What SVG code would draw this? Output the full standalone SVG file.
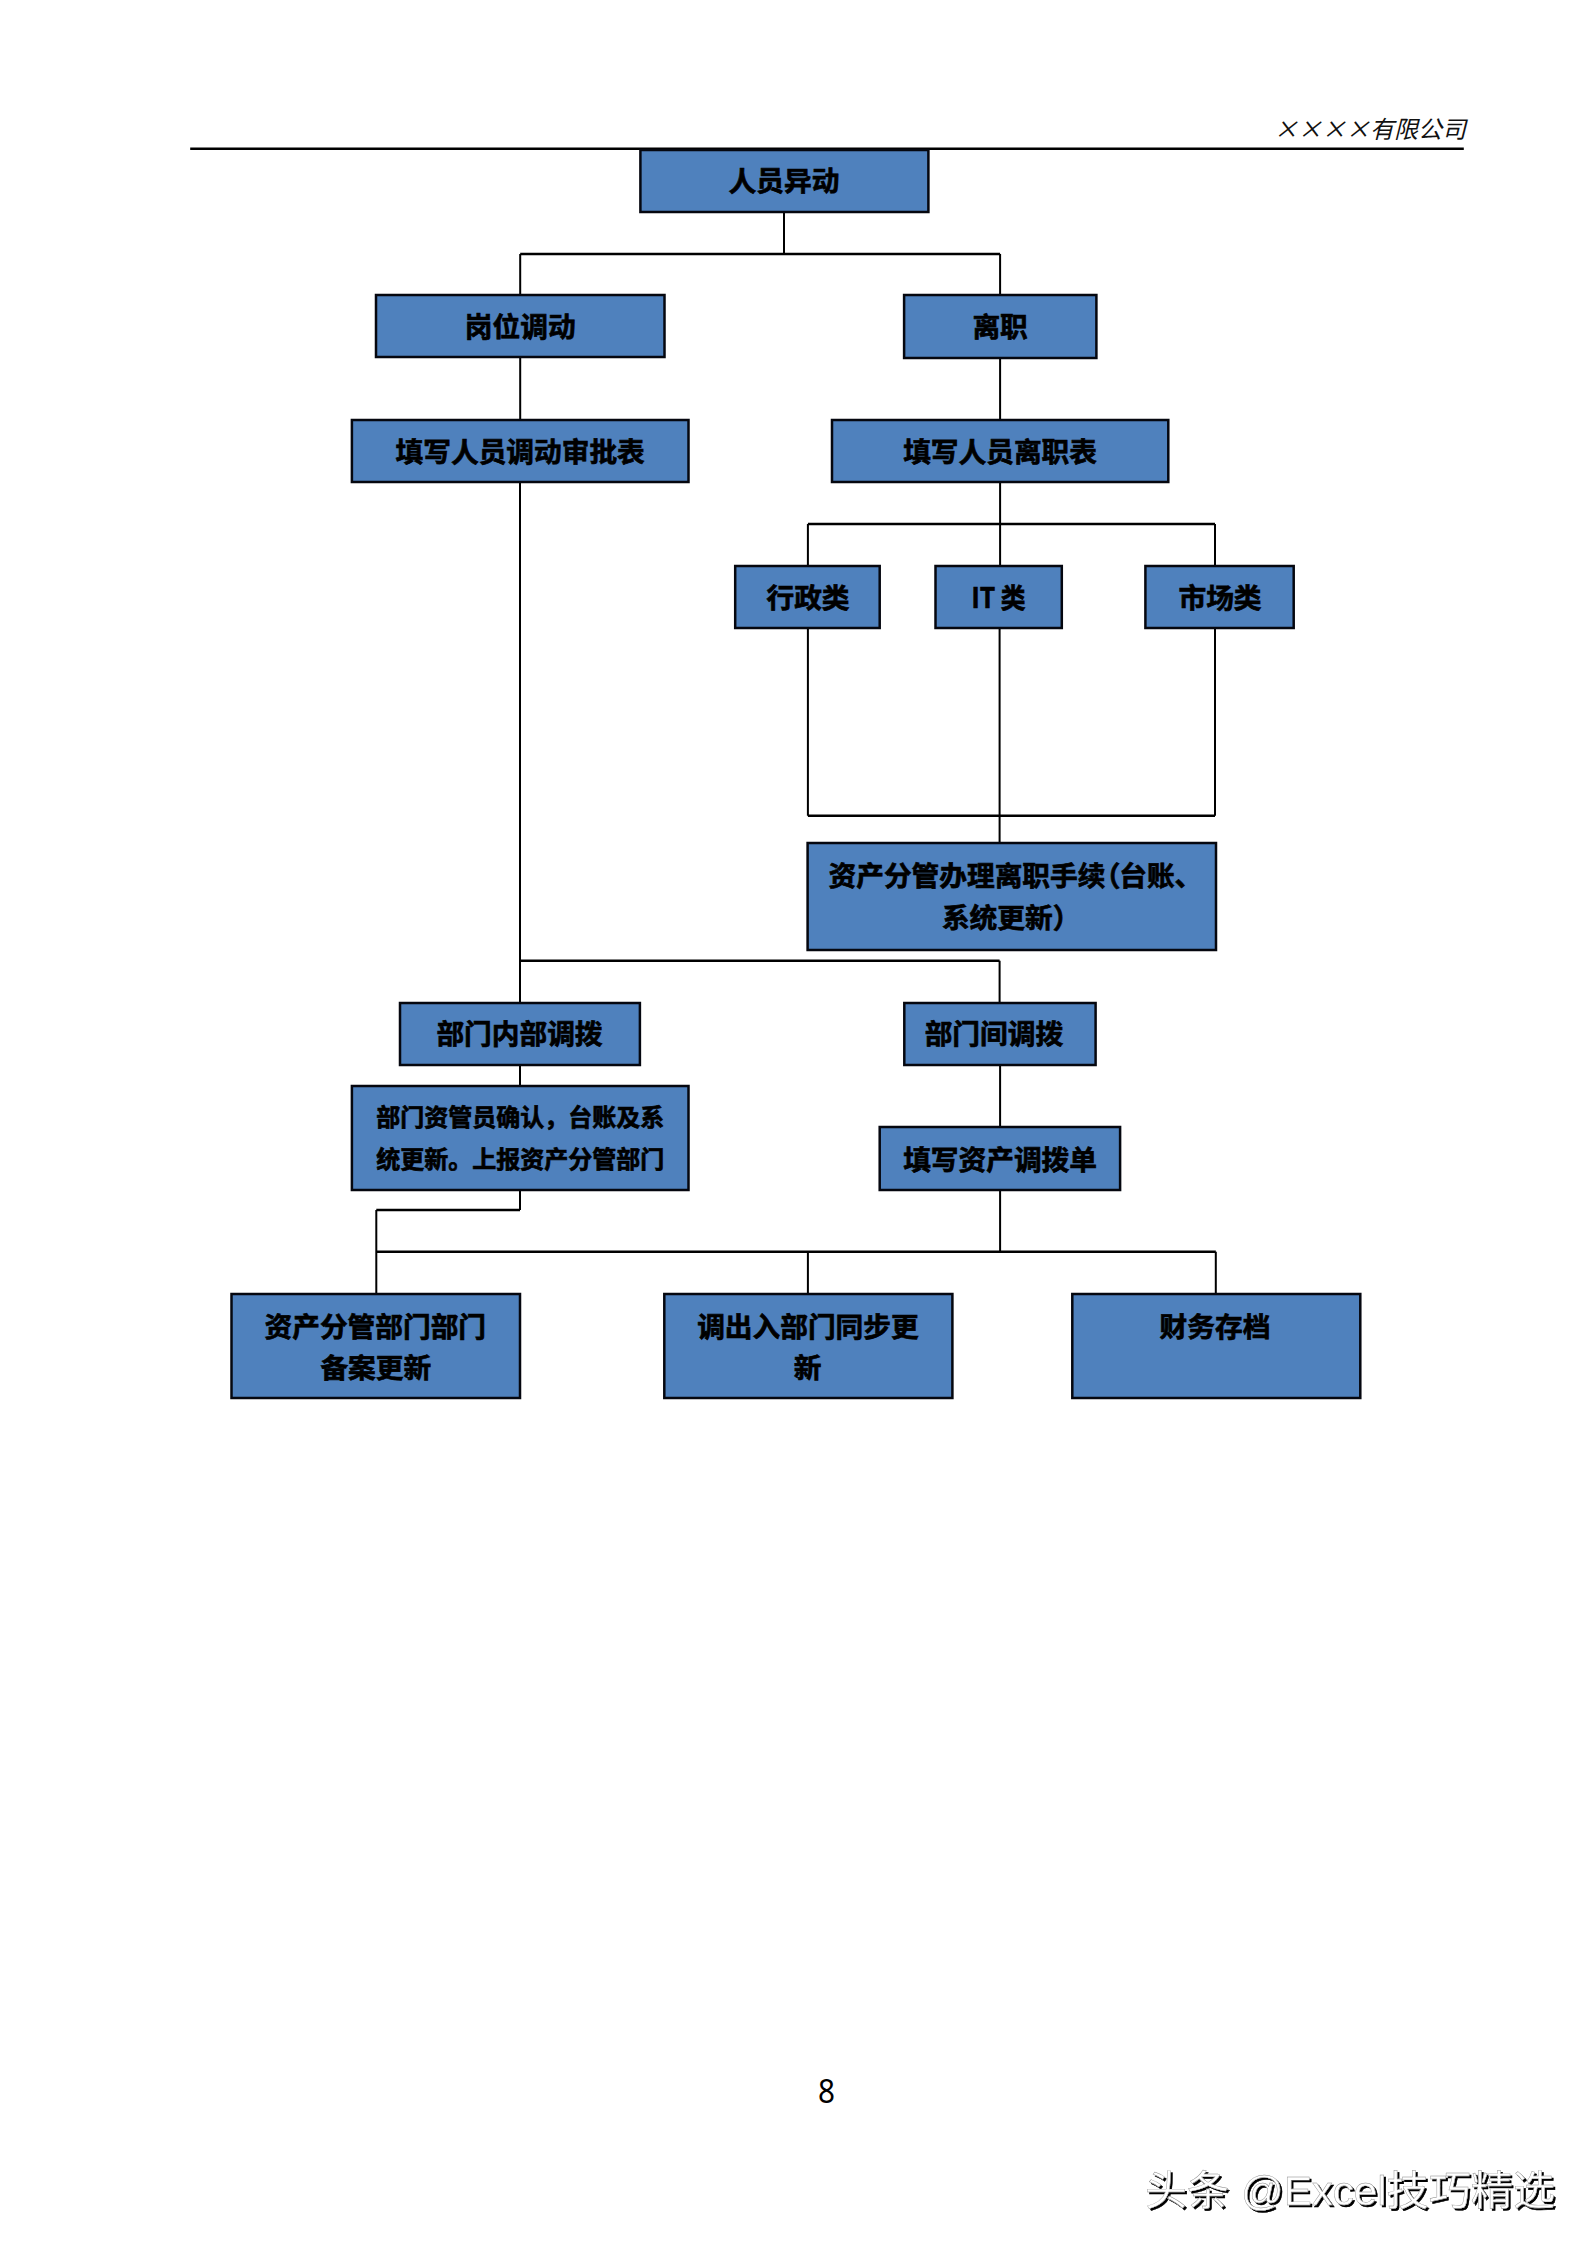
<svg xmlns="http://www.w3.org/2000/svg" width="1587" height="2245" viewBox="0 0 1587 2245">
<style>
.box{fill:#4f81bd;stroke:#05070f;stroke-width:2.5}
.t{font-family:"Noto Sans CJK SC","Noto Sans CJK JP",sans-serif;font-weight:700;font-size:27.7px;fill:#000;text-anchor:middle;stroke:#000;stroke-width:.7}
.s{font-size:24px;text-anchor:start}
.c{fill:none;stroke:#000;stroke-width:2}
.h{fill:none;stroke:#000;stroke-width:2.4}
</style>
<defs>
<filter id="shade" x="-5%" y="-20%" width="110%" height="140%">
<feOffset in="SourceAlpha" dx="2" dy="2" result="o"/>
<feFlood flood-color="#000"/>
<feComposite in2="o" operator="in" result="d"/>
<feMerge><feMergeNode in="d"/><feMergeNode in="SourceGraphic"/></feMerge>
</filter>
</defs>
<rect width="1587" height="2245" fill="#fff"/>
<g id="header">
<line x1="190.2" y1="148.7" x2="1463.8" y2="148.7" stroke="#000" stroke-width="2.4"/>
<text x="1466" y="138" text-anchor="end" font-family="'Noto Sans CJK SC',sans-serif" font-style="italic" font-size="24" fill="#111">××××有限公司</text>
</g>
<g id="connectors">
<path class="c" d="M784 212V254M520.2 254V295M1000.1 254V295M520.2 357V420M1000.1 358V420"/>
<path class="h" d="M520.2 254H1000.1"/>
<path class="c" d="M520 482V1003M1000.1 482V566M807.9 524V566M1215 524V566M807.9 628V815.7M999.6 628V843M1215 628V815.7M999.6 960.7V1003"/>
<path class="h" d="M807.9 524H1215M807.9 815.7H1215M520 960.7H999.6"/>
<path class="c" d="M520 1065V1086M1000.1 1065V1127M520 1190V1210M376.3 1210V1293.7M1000.1 1190V1251.7M807.9 1251.7V1293.7M1215.8 1251.7V1293.7"/>
<path class="h" d="M376.3 1210H520M376.3 1251.7H1215.8"/>
</g>
<g id="n1"><rect class="box" x="640.4" y="150" width="288" height="62"/><text class="t" x="784" y="191">人员异动</text></g>
<g id="n2"><rect class="box" x="376" y="295" width="288.5" height="62"/><text class="t" x="520.2" y="337">岗位调动</text></g>
<g id="n3"><rect class="box" x="904.1" y="295" width="192.3" height="63"/><text class="t" x="1000.1" y="337">离职</text></g>
<g id="n4"><rect class="box" x="351.9" y="420" width="336.6" height="62"/><text class="t" x="520.2" y="461.5">填写人员调动审批表</text></g>
<g id="n5"><rect class="box" x="832" y="420" width="336.3" height="62"/><text class="t" x="1000.1" y="461.5">填写人员离职表</text></g>
<g id="n6"><rect class="box" x="735.2" y="566" width="144.5" height="62"/><text class="t" x="808" y="608">行政类</text></g>
<g id="n7"><rect class="box" x="935.5" y="566" width="126.3" height="62"/><text class="t" x="998.5" y="608" textLength="54" lengthAdjust="spacingAndGlyphs">IT 类</text></g>
<g id="n8"><rect class="box" x="1145.4" y="566" width="148.3" height="62"/><text class="t" x="1220" y="608">市场类</text></g>
<g id="n9"><rect class="box" x="807.6" y="843" width="408.4" height="107"/><text class="t" x="828.5" y="885.5" style="text-anchor:start">资产分管办理离职手续<tspan style="font-feature-settings:'palt'">&#xFF08;</tspan>台账、</text><text class="t" x="941.9" y="928" style="text-anchor:start">系统更新&#xFF09;</text></g>
<g id="n10"><rect class="box" x="400" y="1003" width="239.9" height="62"/><text class="t" x="519.5" y="1044">部门内部调拨</text></g>
<g id="n11"><rect class="box" x="904.3" y="1003" width="191.3" height="62"/><text class="t" x="993.9" y="1044">部门间调拨</text></g>
<g id="n12"><rect class="box" x="351.9" y="1086" width="336.6" height="104"/><text class="t s" x="376.3" y="1125.5">部门资管员确认&#xFF0C;台账及系</text><text class="t s" x="376.3" y="1167.5">统更新。上报资产分管部门</text></g>
<g id="n13"><rect class="box" x="879.7" y="1127" width="240.4" height="63"/><text class="t" x="1000.1" y="1170">填写资产调拨单</text></g>
<g id="n14"><rect class="box" x="231.5" y="1294" width="288.5" height="104"/><text class="t" x="375.3" y="1336.5">资产分管部门部门</text><text class="t" x="375.8" y="1378">备案更新</text></g>
<g id="n15"><rect class="box" x="664.3" y="1294" width="288.1" height="104"/><text class="t" x="807.9" y="1336.5">调出入部门同步更</text><text class="t" x="807.5" y="1378">新</text></g>
<g id="n16"><rect class="box" x="1072.3" y="1294" width="288" height="104"/><text class="t" x="1215" y="1336.5">财务存档</text></g>
<g id="footer">
<text x="826.5" y="2103" text-anchor="middle" font-family="'Noto Sans',sans-serif" font-size="33" textLength="17" lengthAdjust="spacingAndGlyphs" fill="#000">8</text>
<text x="1145" y="2205" font-family="'Liberation Sans','Noto Sans CJK SC',sans-serif" font-size="41" fill="#fff" filter="url(#shade)" stroke="#888" stroke-width=".4" textLength="410" lengthAdjust="spacingAndGlyphs">头条 @Excel技巧精选</text>
</g>
</svg>
